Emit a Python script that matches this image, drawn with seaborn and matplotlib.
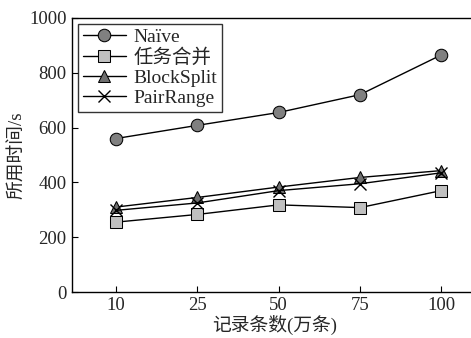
import matplotlib
matplotlib.use("Agg")
import matplotlib.pyplot as plt
import seaborn as sns
import pandas as pd

categories = ["10", "25", "50", "75", "100"]
naive = [560, 608, 655, 720, 865]
merge = [255, 283, 318, 308, 370]
blocksplit = [310, 345, 383, 418, 443]
pairrange = [298, 325, 370, 395, 435]
series_names = ["Naïve", "任务合并", "BlockSplit", "PairRange"]
yticks = [0, 200, 400, 600, 800, 1000]

sns.set_style("ticks")
plt.rcParams["font.family"] = ["Liberation Serif", "Noto Sans CJK SC", "DejaVu Sans"]
plt.rcParams["xtick.direction"] = "in"
plt.rcParams["ytick.direction"] = "in"

fig = plt.figure(figsize=(4.71, 3.38), dpi=100)
ax = fig.add_axes([0.153, 0.136, 0.86, 0.811])

styles = [
    dict(marker="o", markerfacecolor="#808080", markersize=9),
    dict(marker="s", markerfacecolor="#c0c0c0", markersize=8.5),
    dict(marker="^", markerfacecolor="#707070", markersize=9),
    dict(marker="x", markerfacecolor="none", markersize=9, markeredgewidth=1.0),
]
xs = list(range(len(categories)))
for name, vals, st in zip(series_names, [naive, merge, blocksplit, pairrange], styles):
    df = pd.DataFrame({"x": xs, "y": vals})
    sns.lineplot(data=df, x="x", y="y", ax=ax, color="black", linewidth=1.0,
                 markeredgecolor="black", label=name, **st)

ax.set_xlim(-0.54, 4.44)
ax.set_ylim(0, 1000)
ax.set_xticks(xs)
ax.set_xticklabels(categories)
ax.set_yticks(yticks)
ax.tick_params(labelsize=13.5, length=4, width=0.8, color="black")
ax.tick_params(axis="y", pad=4)
ax.set_xlabel("记录条数(万条)", fontsize=13.5, labelpad=1)
ax.set_ylabel("所用时间/s", fontsize=13.5, labelpad=2)
for s in ["left", "bottom", "top"]:
    ax.spines[s].set_color("black")
    ax.spines[s].set_linewidth(1.0)
ax.spines["right"].set_visible(False)

leg = ax.legend(loc="upper left", fontsize=14, frameon=True, fancybox=False,
                edgecolor="black", handlelength=2.2, borderaxespad=0.3,
                labelspacing=0.12, handletextpad=0.4, borderpad=0.25)
leg.get_frame().set_linewidth(1.0)

fig.savefig("out.png", dpi=100)
